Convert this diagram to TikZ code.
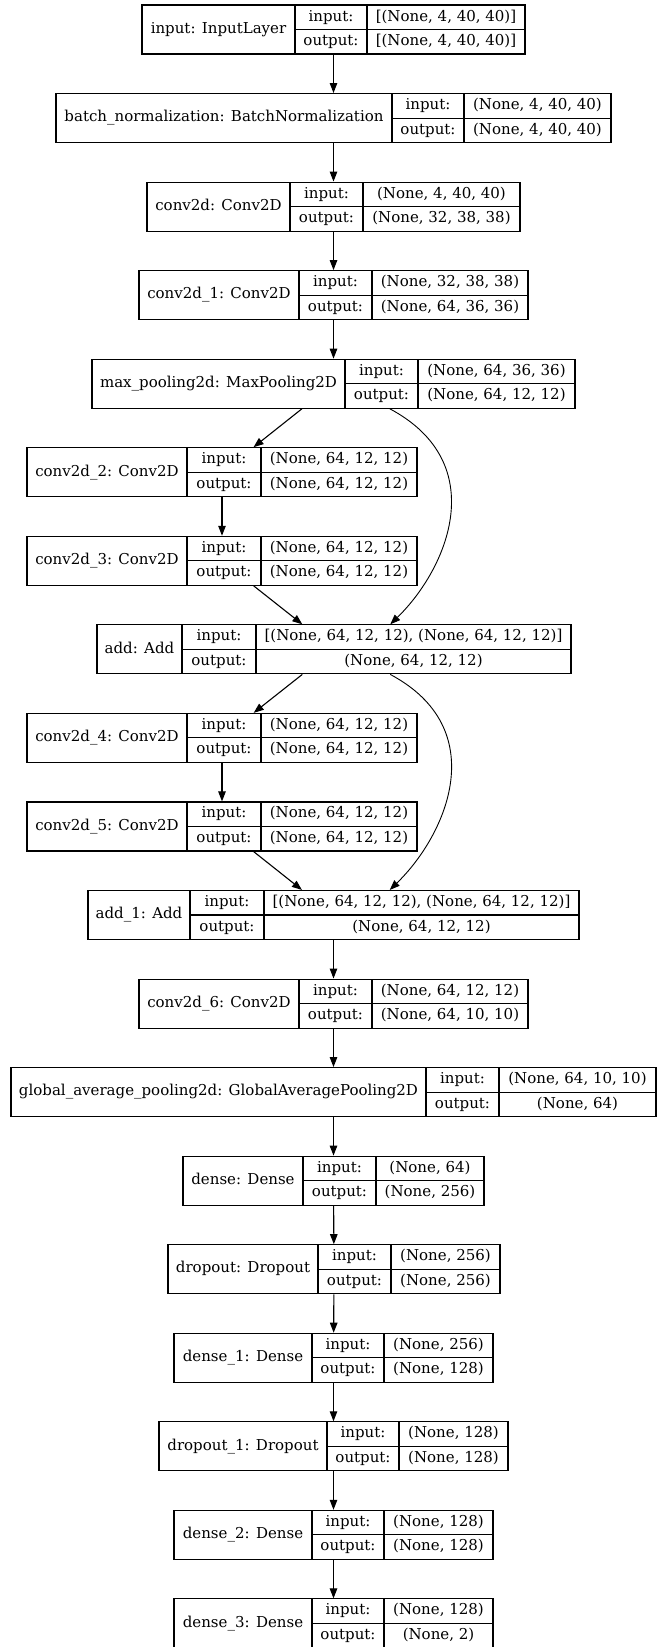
\documentclass[tikz,border=0pt]{standalone}
\usepackage{fontspec}
\setmainfont{DejaVu Serif}
\usetikzlibrary{arrows.meta}

\tikzset{
  rec/.style={draw,line width=1.1pt,inner sep=0pt},
  txt/.style={inner sep=0pt,text height=11pt,text depth=3.5pt,font=\fontsize{15}{18}\selectfont},
  arr/.style={line width=1.1pt,-{Triangle[length=10pt,width=7.5pt]}},
}

% name, row, left, divider 1, divider 2, right, label, input shape, output shape
\newcommand\layerbox[9]{%
  \pgfmathsetmacro\tp{5+88.55*(#2-1)}
  \node[rec,minimum width={#6-#3},minimum height=49] (#1) at ({(#3+#6)/2},{-\tp-24.5}) {};
  \draw[line width=1.1pt] (#4,-\tp) -- (#4,{-\tp-49}) (#5,-\tp) -- (#5,{-\tp-49})
    (#4,{-\tp-24.5}) -- (#6,{-\tp-24.5});
  \node[txt] (#1-lbl) at ({(#3+#4)/2},{-\tp-24.5}) {#7};
  \node[txt] (#1-in) at ({(#4+#5)/2},{-\tp-12.25}) {input:};
  \node[txt] (#1-ins) at ({(#5+#6)/2},{-\tp-12.25}) {#8};
  \node[txt] (#1-out) at ({(#4+#5)/2},{-\tp-36.75}) {output:};
  \node[txt] (#1-outs) at ({(#5+#6)/2},{-\tp-36.75}) {#9};
}

\begin{document}
\begin{tikzpicture}[x=1pt,y=1pt]
    \useasboundingbox (0,0) rectangle (657,-1647);
    \layerbox{input}{1}{142}{295}{367}{525}{input: InputLayer}{[(None, 4, 40, 40)]}{[(None, 4, 40, 40)]}
    \layerbox{batchnorm}{2}{56}{392}{464}{611}{batch\_normalization: BatchNormalization}{(None, 4, 40, 40)}{(None, 4, 40, 40)}
    \layerbox{conv}{3}{147}{290}{363}{520}{conv2d: Conv2D}{(None, 4, 40, 40)}{(None, 32, 38, 38)}
    \layerbox{convA}{4}{139}{299}{372}{528}{conv2d\_1: Conv2D}{(None, 32, 38, 38)}{(None, 64, 36, 36)}
    \layerbox{maxpool}{5}{92}{345}{418}{575}{max\_pooling2d: MaxPooling2D}{(None, 64, 36, 36)}{(None, 64, 12, 12)}
    \layerbox{convB}{6}{27}{187}{261}{417}{conv2d\_2: Conv2D}{(None, 64, 12, 12)}{(None, 64, 12, 12)}
    \layerbox{convC}{7}{27}{187}{261}{417}{conv2d\_3: Conv2D}{(None, 64, 12, 12)}{(None, 64, 12, 12)}
    \layerbox{add}{8}{97}{182}{256}{571}{add: Add}{[(None, 64, 12, 12), (None, 64, 12, 12)]}{(None, 64, 12, 12)}
    \layerbox{convD}{9}{27}{187}{261}{417}{conv2d\_4: Conv2D}{(None, 64, 12, 12)}{(None, 64, 12, 12)}
    \layerbox{convE}{10}{27}{187}{261}{417}{conv2d\_5: Conv2D}{(None, 64, 12, 12)}{(None, 64, 12, 12)}
    \layerbox{addA}{11}{88}{190}{264}{579}{add\_1: Add}{[(None, 64, 12, 12), (None, 64, 12, 12)]}{(None, 64, 12, 12)}
    \layerbox{convF}{12}{139}{299}{372}{528}{conv2d\_6: Conv2D}{(None, 64, 12, 12)}{(None, 64, 10, 10)}
    \layerbox{gap}{13}{11}{426}{499}{656}{global\_average\_pooling2d: GlobalAveragePooling2D}{(None, 64, 10, 10)}{(None, 64)}
    \layerbox{dense}{14}{183}{303}{376}{484}{dense: Dense}{(None, 64)}{(None, 256)}
    \layerbox{dropout}{15}{168}{318}{391}{500}{dropout: Dropout}{(None, 256)}{(None, 256)}
    \layerbox{denseA}{16}{174}{312}{384}{493}{dense\_1: Dense}{(None, 256)}{(None, 128)}
    \layerbox{dropoutA}{17}{159}{327}{399}{508}{dropout\_1: Dropout}{(None, 128)}{(None, 128)}
    \layerbox{denseB}{18}{174}{312}{384}{493}{dense\_2: Dense}{(None, 128)}{(None, 128)}
    \layerbox{denseC}{19}{174}{312}{384}{493}{dense\_3: Dense}{(None, 128)}{(None, 2)}
    \foreach \a/\b in {input/batchnorm,batchnorm/conv,conv/convA,convA/maxpool,
        maxpool/convB,convB/convC,convC/add,add/convD,convD/convE,convE/addA,
        addA/convF,convF/gap,gap/dense,dense/dropout,dropout/denseA,
        denseA/dropoutA,dropoutA/denseB,denseB/denseC}
      \draw[arr] (\a) -- (\b);
    \draw[arr,line width=.9pt] (maxpool.-24.6) .. controls +(102,-54.5) and +(57.6,56) .. (add.24);
    \draw[arr,line width=.9pt] (add.-24.6) .. controls +(102,-54.5) and +(57.6,56) .. (addA.24);
\end{tikzpicture}
\end{document}
